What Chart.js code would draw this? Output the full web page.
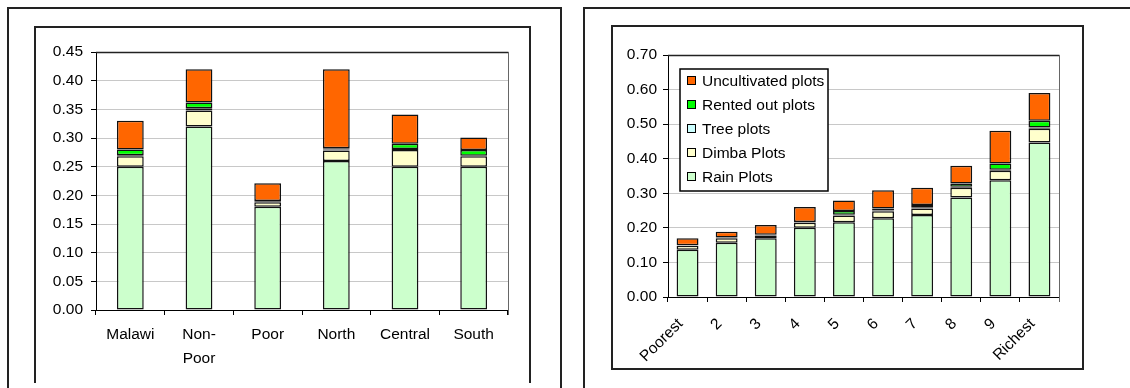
<!DOCTYPE html>
<html>
<head>
<meta charset="utf-8">
<script src="https://cdn.jsdelivr.net/npm/chart.js@4/dist/chart.umd.min.js"></script>
<style>
  html, body { margin: 0; padding: 0; background: #fff; width: 1130px; height: 388px; overflow: hidden; position: relative; }
  .frame { position: absolute; box-sizing: border-box; border: 2px solid #222; }
  #outerL { left: 7px; top: 7px; width: 555px; height: 420px; border-bottom: none; }
  #innerL { left: 34px; top: 26px; width: 497px; height: 357px; border-bottom: none; }
  #outerR { left: 583px; top: 7px; width: 620px; height: 420px; border-bottom: none; border-right: none; }
  #innerR { left: 611px; top: 25px; width: 473px; height: 345px; }
  .holder { position: absolute; }
  #holderL { left: 36px; top: 28px; width: 494px; height: 354px; }
  #holderR { left: 613px; top: 27px; width: 470px; height: 342px; }
</style>
</head>
<body>
<div class="frame" id="outerL"></div>
<div class="frame" id="innerL"></div>
<div class="frame" id="outerR"></div>
<div class="frame" id="innerR"></div>
<div class="holder" id="holderL"><canvas id="chartL" width="494" height="354"></canvas></div>
<div class="holder" id="holderR"><canvas id="chartR" width="470" height="342"></canvas></div>

<script>
// Plot types (legend names) and their fills
const plotTypes = ['Rain Plots', 'Dimba Plots', 'Tree plots', 'Rented out plots', 'Uncultivated plots'];
const plotColors = ['#CCFFCC', '#FFFFCC', '#CCFFFF', '#00FF00', '#FF6600'];

// Left chart: by poverty status and region
const groupLabels = ['Malawi', ['Non-', 'Poor'], 'Poor', 'North', 'Central', 'South'];
const groupRain     = [0.250, 0.320, 0.180, 0.260, 0.250, 0.250];
const groupDimba    = [0.018, 0.028, 0.008, 0.018, 0.029, 0.018];
const groupTree     = [0.002, 0.004, 0.001, 0.002, 0.002, 0.001];
const groupRented   = [0.010, 0.010, 0.001, 0.002, 0.009, 0.010];
const groupUncult   = [0.050, 0.058, 0.031, 0.138, 0.051, 0.022];

// Right chart: by expenditure decile
const decileLabels = ['Poorest', '2', '3', '4', '5', '6', '7', '8', '9', 'Richest'];
const decileRain   = [0.137, 0.157, 0.170, 0.200, 0.216, 0.228, 0.237, 0.288, 0.338, 0.447];
const decileDimba  = [0.011, 0.013, 0.008, 0.015, 0.020, 0.020, 0.019, 0.028, 0.027, 0.040];
const decileTree   = [0.001, 0.001, 0.001, 0.001, 0.002, 0.002, 0.002, 0.003, 0.003, 0.003];
const decileRented = [0.001, 0.001, 0.001, 0.001, 0.011, 0.006, 0.008, 0.009, 0.018, 0.020];
const decileUncult = [0.020, 0.017, 0.028, 0.043, 0.030, 0.053, 0.050, 0.052, 0.095, 0.080];

const FAMILY = '"Liberation Sans", Arial, sans-serif';
const FONT = { family: FAMILY, size: 15.5 };

function makeDatasets(series, barPct) {
  return series.map((vals, i) => ({
    label: plotTypes[i],
    data: vals,
    backgroundColor: plotColors[i],
    borderColor: '#111',
    borderWidth: 1.5,
    borderSkipped: false,
    barPercentage: barPct,
    categoryPercentage: 1.0
  }));
}

// Frame around the plot area (top and right edges)
const plotFrame = {
  id: 'plotFrame',
  afterDatasetsDraw(chart) {
    const { ctx, chartArea: a } = chart;
    ctx.save();
    ctx.lineWidth = 1.5;
    ctx.strokeStyle = '#222';
    ctx.beginPath();
    ctx.moveTo(a.left, a.top + 0.5);
    ctx.lineTo(a.right + 0.5, a.top + 0.5);
    ctx.stroke();
    ctx.lineWidth = 1;
    ctx.strokeStyle = '#666';
    ctx.beginPath();
    ctx.moveTo(a.right + 0.5, a.top);
    ctx.lineTo(a.right + 0.5, a.bottom + 5);
    ctx.stroke();
    ctx.restore();
  }
};

// Boxed legend inside the plot area, listed top series first
const boxedLegend = {
  id: 'boxedLegend',
  afterDraw(chart, args, opts) {
    if (!opts.show) return;
    const { ctx } = chart;
    const x = opts.x, y = opts.y, w = opts.w, h = opts.h;
    ctx.save();
    ctx.fillStyle = '#fff';
    ctx.fillRect(x, y, w, h);
    ctx.strokeStyle = '#000';
    ctx.lineWidth = 1.5;
    ctx.strokeRect(x, y, w, h);
    ctx.font = FONT.size + 'px ' + FAMILY;
    ctx.textBaseline = 'middle';
    const ds = chart.data.datasets.slice().reverse();
    ds.forEach((d, i) => {
      const cy = y + 12 + i * 24;
      ctx.fillStyle = d.backgroundColor;
      ctx.fillRect(x + 7.5, cy - 4.5, 8, 8);
      ctx.strokeStyle = '#000';
      ctx.lineWidth = 1;
      ctx.strokeRect(x + 7.5, cy - 4.5, 8, 8);
      ctx.fillStyle = '#000';
      ctx.fillText(d.label, x + 22, cy + 1);
    });
    ctx.restore();
  }
};

function makeOptions(cfg) {
  return {
    responsive: false,
    animation: false,
    layout: { padding: { top: cfg.padTop, right: cfg.padRight, left: 0, bottom: 0 } },
    plugins: {
      legend: { display: false },
      tooltip: { enabled: false },
      boxedLegend: cfg.legend
    },
    scales: {
      x: {
        stacked: true,
        grid: { offset: true, drawOnChartArea: false, drawTicks: true, tickLength: 5, tickColor: '#000' },
        border: { color: '#000', width: 1 },
        ticks: {
          color: '#000', font: { family: FAMILY, size: FONT.size, lineHeight: 1.55 },
          padding: cfg.xPad, labelOffset: cfg.xOff, autoSkip: false,
          minRotation: cfg.rot, maxRotation: cfg.rot
        },
        afterFit(s) { s.height = 72; }
      },
      y: {
        stacked: true,
        min: 0, max: cfg.yMax,
        grid: { color: '#c8c8c8', lineWidth: 1, tickColor: '#000', tickLength: 5 },
        border: { color: '#000', width: 1 },
        ticks: {
          stepSize: cfg.step, color: '#000', font: FONT, padding: cfg.yPad,
          callback: v => Number(v).toFixed(2)
        },
        afterFit(s) { s.width = cfg.yWidth; }
      }
    }
  };
}

new Chart(document.getElementById('chartL'), {
  type: 'bar',
  data: {
    labels: groupLabels,
    datasets: makeDatasets([groupRain, groupDimba, groupTree, groupRented, groupUncult], 0.39)
  },
  options: makeOptions({ padTop: 24, padRight: 22, yWidth: 60, yMax: 0.45, step: 0.05, xPad: 8, xOff: 0, yPad: 8, rot: 0,
    legend: { show: false } }),
  plugins: [plotFrame, boxedLegend]
});

new Chart(document.getElementById('chartR'), {
  type: 'bar',
  data: {
    labels: decileLabels,
    datasets: makeDatasets([decileRain, decileDimba, decileTree, decileRented, decileUncult], 0.56)
  },
  options: makeOptions({ padTop: 28, padRight: 24, yWidth: 55, yMax: 0.70, step: 0.10, xPad: 11, xOff: -7, yPad: 6, rot: 45,
    legend: { show: true, x: 67, y: 42, w: 148, h: 122 } }),
  plugins: [plotFrame, boxedLegend]
});
</script>
</body>
</html>
